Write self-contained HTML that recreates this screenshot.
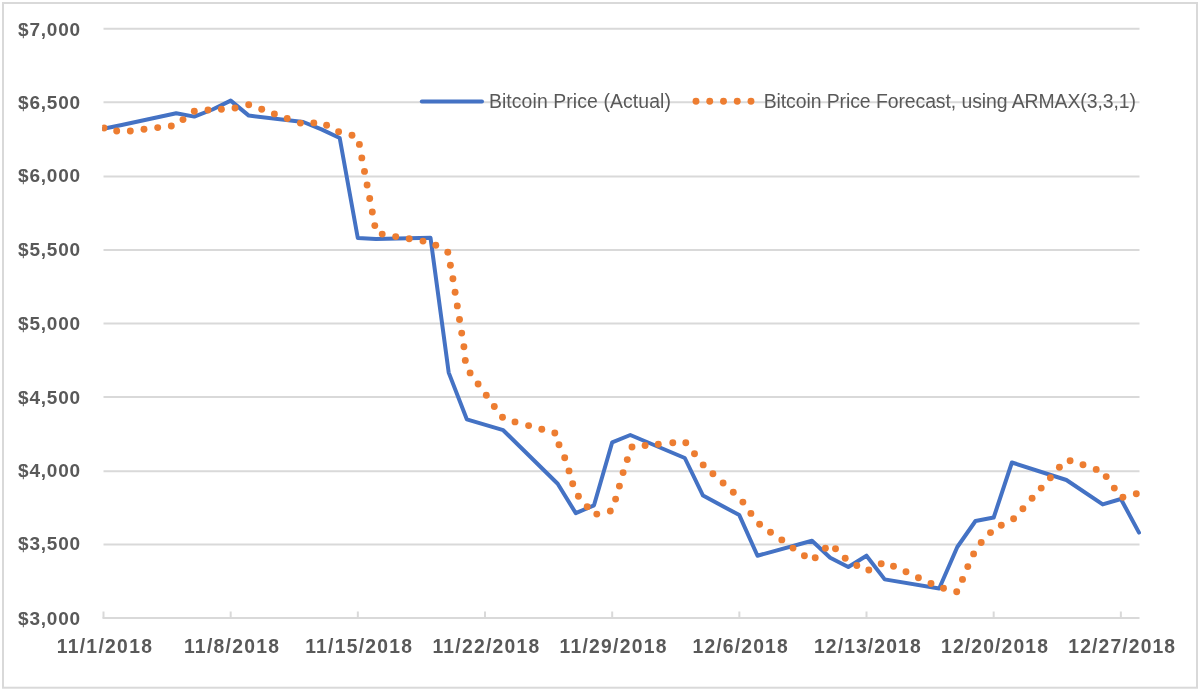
<!DOCTYPE html>
<html><head><meta charset="utf-8"><style>
html,body{margin:0;padding:0;background:#fff;}
body{width:1200px;height:691px;overflow:hidden;}
svg{display:block;will-change:transform;}
text{font-family:"Liberation Sans",sans-serif;fill:#595959;}
.yl{font-size:19px;text-anchor:end;font-weight:bold;}
.xl{font-size:19.3px;text-anchor:middle;font-weight:bold;}
.lg{font-size:19.4px;}
</style></head><body>
<svg width="1200" height="691" viewBox="0 0 1200 691">
<rect x="3" y="3" width="1194" height="684.7" fill="#fff" stroke="#d9d9d9" stroke-width="2"/>
<line x1="103.5" y1="544.60" x2="1139.5" y2="544.60" stroke="#d9d9d9" stroke-width="2"/>
<line x1="103.5" y1="471.20" x2="1139.5" y2="471.20" stroke="#d9d9d9" stroke-width="2"/>
<line x1="103.5" y1="397.10" x2="1139.5" y2="397.10" stroke="#d9d9d9" stroke-width="2"/>
<line x1="103.5" y1="323.60" x2="1139.5" y2="323.60" stroke="#d9d9d9" stroke-width="2"/>
<line x1="103.5" y1="250.10" x2="1139.5" y2="250.10" stroke="#d9d9d9" stroke-width="2"/>
<line x1="103.5" y1="176.60" x2="1139.5" y2="176.60" stroke="#d9d9d9" stroke-width="2"/>
<line x1="103.5" y1="102.30" x2="1139.5" y2="102.30" stroke="#d9d9d9" stroke-width="2"/>
<line x1="103.5" y1="28.70" x2="1139.5" y2="28.70" stroke="#d9d9d9" stroke-width="2"/>
<line x1="102.5" y1="617.90" x2="1139.5" y2="617.90" stroke="#d9d9d9" stroke-width="2"/>
<line x1="103.50" y1="611.5" x2="103.50" y2="617.90" stroke="#d9d9d9" stroke-width="2"/>
<line x1="230.67" y1="611.5" x2="230.67" y2="617.90" stroke="#d9d9d9" stroke-width="2"/>
<line x1="357.84" y1="611.5" x2="357.84" y2="617.90" stroke="#d9d9d9" stroke-width="2"/>
<line x1="485.01" y1="611.5" x2="485.01" y2="617.90" stroke="#d9d9d9" stroke-width="2"/>
<line x1="612.18" y1="611.5" x2="612.18" y2="617.90" stroke="#d9d9d9" stroke-width="2"/>
<line x1="739.35" y1="611.5" x2="739.35" y2="617.90" stroke="#d9d9d9" stroke-width="2"/>
<line x1="866.51" y1="611.5" x2="866.51" y2="617.90" stroke="#d9d9d9" stroke-width="2"/>
<line x1="993.68" y1="611.5" x2="993.68" y2="617.90" stroke="#d9d9d9" stroke-width="2"/>
<line x1="1120.85" y1="611.5" x2="1120.85" y2="617.90" stroke="#d9d9d9" stroke-width="2"/>
<text x="80.1" y="624.7" class="yl" textLength="62">$3,000</text>
<text x="80.1" y="550.2" class="yl" textLength="62">$3,500</text>
<text x="80.1" y="477.0" class="yl" textLength="62">$4,000</text>
<text x="80.1" y="403.8" class="yl" textLength="62">$4,500</text>
<text x="80.1" y="330.1" class="yl" textLength="62">$5,000</text>
<text x="80.1" y="255.7" class="yl" textLength="62">$5,500</text>
<text x="80.1" y="182.1" class="yl" textLength="62">$6,000</text>
<text x="80.1" y="108.9" class="yl" textLength="62">$6,500</text>
<text x="80.1" y="35.7" class="yl" textLength="62">$7,000</text>
<text x="104.3" y="652.5" class="xl" textLength="95.2">11/1/2018</text>
<text x="231.5" y="652.5" class="xl" textLength="95.2">11/8/2018</text>
<text x="358.6" y="652.5" class="xl" textLength="106.8">11/15/2018</text>
<text x="485.8" y="652.5" class="xl" textLength="106.8">11/22/2018</text>
<text x="613.0" y="652.5" class="xl" textLength="106.8">11/29/2018</text>
<text x="740.1" y="652.5" class="xl" textLength="95.2">12/6/2018</text>
<text x="867.3" y="652.5" class="xl" textLength="106.8">12/13/2018</text>
<text x="994.5" y="652.5" class="xl" textLength="106.8">12/20/2018</text>
<text x="1121.7" y="652.5" class="xl" textLength="106.8">12/27/2018</text>
<defs><clipPath id="pc"><rect x="102.2" y="0" width="1050" height="691"/></clipPath></defs><g clip-path="url(#pc)">
<polyline points="103.5,128.8 121.7,125.0 176.2,113.3 194.3,116.6 212.5,109.5 230.7,100.6 248.8,115.6 303.3,122.0 321.5,129.4 339.7,138.0 357.8,238.0 376.0,239.0 430.5,237.8 448.7,372.6 466.8,419.3 503.2,430.2 557.7,483.7 575.8,513.2 594.0,505.3 612.2,442.3 630.3,435.0 684.8,458.0 703.0,495.6 739.3,515.1 757.5,555.7 812.0,540.7 830.2,557.7 848.3,567.0 866.5,555.7 884.7,579.4 939.2,588.5 957.3,547.0 975.5,521.0 993.7,517.5 1011.9,462.5 1066.4,480.0 1102.7,504.4 1120.9,499.0 1139.0,532.6" fill="none" stroke="#4472c4" stroke-width="4" stroke-linejoin="round" stroke-linecap="round"/>
<g fill="#ed7d31"><circle cx="104.0" cy="128.0" r="3.45"/><circle cx="116.7" cy="131.0" r="3.45"/><circle cx="130.3" cy="131.0" r="3.45"/><circle cx="144.0" cy="129.3" r="3.45"/><circle cx="157.7" cy="127.6" r="3.45"/><circle cx="171.3" cy="126.0" r="3.45"/><circle cx="183.0" cy="119.6" r="3.45"/><circle cx="194.3" cy="111.3" r="3.45"/><circle cx="208.0" cy="110.0" r="3.45"/><circle cx="221.4" cy="109.3" r="3.45"/><circle cx="235.0" cy="108.0" r="3.45"/><circle cx="248.7" cy="104.7" r="3.45"/><circle cx="261.7" cy="109.2" r="3.45"/><circle cx="274.4" cy="113.9" r="3.45"/><circle cx="287.2" cy="118.5" r="3.45"/><circle cx="300.4" cy="123.1" r="3.45"/><circle cx="313.8" cy="122.9" r="3.45"/><circle cx="326.6" cy="125.2" r="3.45"/><circle cx="338.6" cy="131.7" r="3.45"/><circle cx="352.0" cy="135.2" r="3.45"/><circle cx="359.4" cy="144.4" r="3.45"/><circle cx="361.8" cy="157.9" r="3.45"/><circle cx="364.5" cy="171.4" r="3.45"/><circle cx="367.1" cy="185.0" r="3.45"/><circle cx="369.7" cy="198.5" r="3.45"/><circle cx="372.3" cy="212.0" r="3.45"/><circle cx="374.8" cy="225.6" r="3.45"/><circle cx="382.2" cy="234.1" r="3.45"/><circle cx="395.7" cy="236.6" r="3.45"/><circle cx="409.2" cy="238.7" r="3.45"/><circle cx="423.0" cy="241.1" r="3.45"/><circle cx="435.8" cy="245.3" r="3.45"/><circle cx="447.8" cy="252.2" r="3.45"/><circle cx="450.4" cy="265.2" r="3.45"/><circle cx="452.9" cy="278.7" r="3.45"/><circle cx="455.1" cy="292.3" r="3.45"/><circle cx="457.3" cy="305.9" r="3.45"/><circle cx="459.5" cy="319.5" r="3.45"/><circle cx="461.7" cy="333.1" r="3.45"/><circle cx="463.9" cy="346.7" r="3.45"/><circle cx="465.3" cy="360.4" r="3.45"/><circle cx="470.1" cy="372.9" r="3.45"/><circle cx="478.1" cy="384.0" r="3.45"/><circle cx="486.3" cy="395.3" r="3.45"/><circle cx="494.3" cy="406.5" r="3.45"/><circle cx="502.5" cy="417.3" r="3.45"/><circle cx="515.0" cy="421.9" r="3.45"/><circle cx="528.6" cy="425.6" r="3.45"/><circle cx="541.8" cy="429.3" r="3.45"/><circle cx="554.8" cy="433.0" r="3.45"/><circle cx="559.0" cy="444.8" r="3.45"/><circle cx="564.7" cy="457.7" r="3.45"/><circle cx="569.0" cy="470.9" r="3.45"/><circle cx="572.7" cy="483.7" r="3.45"/><circle cx="578.4" cy="496.3" r="3.45"/><circle cx="587.2" cy="506.8" r="3.45"/><circle cx="596.8" cy="514.1" r="3.45"/><circle cx="610.3" cy="511.0" r="3.45"/><circle cx="615.6" cy="499.1" r="3.45"/><circle cx="619.4" cy="486.1" r="3.45"/><circle cx="623.1" cy="472.6" r="3.45"/><circle cx="627.3" cy="459.6" r="3.45"/><circle cx="632.0" cy="447.0" r="3.45"/><circle cx="645.1" cy="445.5" r="3.45"/><circle cx="658.3" cy="444.2" r="3.45"/><circle cx="672.8" cy="442.8" r="3.45"/><circle cx="685.8" cy="442.8" r="3.45"/><circle cx="694.5" cy="453.7" r="3.45"/><circle cx="703.2" cy="464.9" r="3.45"/><circle cx="712.9" cy="473.8" r="3.45"/><circle cx="723.1" cy="483.0" r="3.45"/><circle cx="733.3" cy="492.3" r="3.45"/><circle cx="742.9" cy="502.1" r="3.45"/><circle cx="750.9" cy="513.4" r="3.45"/><circle cx="759.6" cy="524.2" r="3.45"/><circle cx="770.5" cy="532.3" r="3.45"/><circle cx="781.8" cy="539.9" r="3.45"/><circle cx="793.0" cy="548.1" r="3.45"/><circle cx="804.4" cy="555.7" r="3.45"/><circle cx="815.2" cy="557.7" r="3.45"/><circle cx="825.4" cy="548.2" r="3.45"/><circle cx="835.5" cy="548.7" r="3.45"/><circle cx="845.2" cy="558.3" r="3.45"/><circle cx="856.8" cy="565.5" r="3.45"/><circle cx="868.8" cy="570.0" r="3.45"/><circle cx="881.2" cy="563.7" r="3.45"/><circle cx="893.5" cy="566.2" r="3.45"/><circle cx="906.0" cy="571.8" r="3.45"/><circle cx="918.4" cy="577.8" r="3.45"/><circle cx="931.0" cy="583.5" r="3.45"/><circle cx="943.5" cy="588.3" r="3.45"/><circle cx="956.7" cy="591.7" r="3.45"/><circle cx="962.5" cy="579.4" r="3.45"/><circle cx="967.8" cy="566.6" r="3.45"/><circle cx="973.6" cy="553.9" r="3.45"/><circle cx="981.2" cy="542.5" r="3.45"/><circle cx="990.5" cy="532.6" r="3.45"/><circle cx="1001.3" cy="525.2" r="3.45"/><circle cx="1013.6" cy="518.7" r="3.45"/><circle cx="1022.9" cy="508.8" r="3.45"/><circle cx="1032.1" cy="498.3" r="3.45"/><circle cx="1041.2" cy="488.1" r="3.45"/><circle cx="1050.4" cy="477.7" r="3.45"/><circle cx="1059.4" cy="467.3" r="3.45"/><circle cx="1070.1" cy="460.8" r="3.45"/><circle cx="1083.0" cy="464.8" r="3.45"/><circle cx="1096.2" cy="469.4" r="3.45"/><circle cx="1106.2" cy="476.6" r="3.45"/><circle cx="1114.3" cy="488.1" r="3.45"/><circle cx="1122.9" cy="497.2" r="3.45"/><circle cx="1136.3" cy="493.7" r="3.45"/></g>
</g>
<line x1="421.8" y1="101.6" x2="482" y2="101.6" stroke="#4472c4" stroke-width="4" stroke-linecap="round"/>
<text x="488.9" y="107.8" class="lg" textLength="182">Bitcoin Price (Actual)</text>
<circle cx="696.00" cy="101.2" r="3.45" fill="#ed7d31"/>
<circle cx="709.75" cy="101.2" r="3.45" fill="#ed7d31"/>
<circle cx="723.50" cy="101.2" r="3.45" fill="#ed7d31"/>
<circle cx="737.25" cy="101.2" r="3.45" fill="#ed7d31"/>
<circle cx="751.00" cy="101.2" r="3.45" fill="#ed7d31"/>
<text x="763.7" y="107.8" class="lg" textLength="372.3">Bitcoin Price Forecast, using ARMAX(3,3,1)</text>
</svg>
</body></html>
